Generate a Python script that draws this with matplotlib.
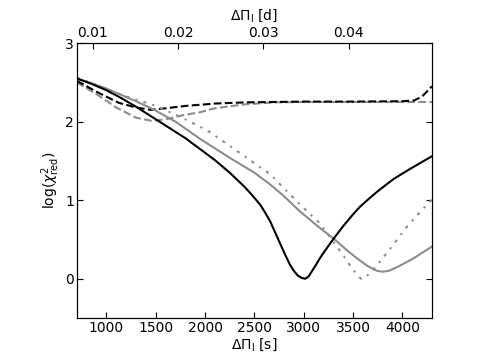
import matplotlib
matplotlib.use("Agg")
import matplotlib.pyplot as plt

# period spacing [s] and log(chi2_red)
x_black = [700, 850, 1000, 1150, 1300, 1450, 1600, 1800, 1950, 2100, 2250, 2400, 2480, 2560, 2610,
           2660, 2710, 2760, 2810, 2860, 2900, 2940, 2980, 3016, 3050, 3090, 3130, 3168, 3240, 3303,
           3400, 3500, 3573, 3680, 3776, 3911, 4080, 4300]
y_black = [2.55, 2.48, 2.40, 2.30, 2.19, 2.07, 1.95, 1.79, 1.65, 1.51, 1.35, 1.17, 1.06, 0.94, 0.84,
           0.73, 0.59, 0.45, 0.31, 0.18, 0.10, 0.04, 0.01, 0.0, 0.03, 0.11, 0.19, 0.27, 0.40, 0.51,
           0.67, 0.82, 0.92, 1.04, 1.14, 1.27, 1.40, 1.56]

x_gray = [700, 850, 1000, 1150, 1300, 1500, 1700, 1950, 2250, 2500, 2660, 2800, 2950, 3150, 3303,
          3450, 3550, 3650, 3743, 3800, 3860, 3950, 4100, 4300]
y_gray = [2.55, 2.49, 2.42, 2.34, 2.26, 2.14, 2.00, 1.78, 1.54, 1.35, 1.20, 1.05, 0.87, 0.66, 0.51,
          0.35, 0.25, 0.16, 0.10, 0.09, 0.10, 0.15, 0.25, 0.41]

x_dot = [700, 850, 1000, 1200, 1480, 1750, 2020, 2320, 2500, 2662, 2800, 3000, 3168, 3300, 3400,
         3480, 3540, 3580, 3620, 3700, 3780, 3900, 4050, 4180, 4300]
y_dot = [2.56, 2.49, 2.42, 2.32, 2.21, 2.06, 1.89, 1.63, 1.47, 1.33, 1.15, 0.90, 0.70, 0.47, 0.30,
         0.15, 0.05, 0.0, 0.01, 0.11, 0.23, 0.42, 0.67, 0.85, 1.01]

x_bdash = [700, 900, 1125, 1300, 1450, 1600, 1800, 2100, 2400, 2700, 3000, 3500, 4000, 4120, 4200, 4300]
y_bdash = [2.52, 2.38, 2.24, 2.18, 2.15, 2.17, 2.20, 2.23, 2.245, 2.25, 2.255, 2.255, 2.26, 2.27, 2.32, 2.45]

x_gdash = [700, 900, 1100, 1300, 1460, 1600, 1770, 1950, 2100, 2400, 2700, 3000, 3500, 4000, 4300]
y_gdash = [2.50, 2.35, 2.18, 2.05, 2.01, 2.03, 2.08, 2.12, 2.17, 2.22, 2.245, 2.25, 2.25, 2.25, 2.25]

top_ticks = [0.01, 0.02, 0.03, 0.04]
bottom_ticks = [1000, 1500, 2000, 2500, 3000, 3500, 4000]

fig = plt.figure(figsize=(4.8, 3.62), dpi=100)
ax = fig.add_axes([0.160, 0.1215, 0.740, 0.7595])

gray = '0.55'
ax.plot(x_gdash, y_gdash, color=gray, lw=1.5, ls='--')
ax.plot(x_bdash, y_bdash, color='k', lw=1.5, ls='--')
ax.plot(x_dot, y_dot, color=gray, lw=1.5, dashes=(1.5, 3, 1, 3))
ax.plot(x_gray, y_gray, color=gray, lw=1.5)
ax.plot(x_black, y_black, color='k', lw=1.5)

ax.set_xlim(700, 4300)
ax.set_ylim(-0.5, 3)
ax.set_xticks(bottom_ticks)
ax.set_yticks([0, 1, 2, 3])
ax.tick_params(direction='in', labelsize=10, top=False, right=True, length=4, pad=2)
ax.set_xlabel(r'$\Delta\Pi_{\rm l}$ [s]', fontsize=10, labelpad=1)
ax.set_ylabel(r'log($\chi^2_{\rm red}$)', fontsize=10, labelpad=2)

# second axis in days
ax2 = ax.twiny()
ax2.set_xlim(700 / 86400, 4300 / 86400)
ax2.set_xticks(top_ticks)
ax2.set_xticklabels(['0.01', '0.02', '0.03', '0.04'])
ax2.tick_params(direction='in', labelsize=10, length=4, pad=2)
ax2.set_xlabel(r'$\Delta\Pi_{\rm l}$ [d]', fontsize=10, labelpad=5)

fig.savefig('out.png', dpi=100)
